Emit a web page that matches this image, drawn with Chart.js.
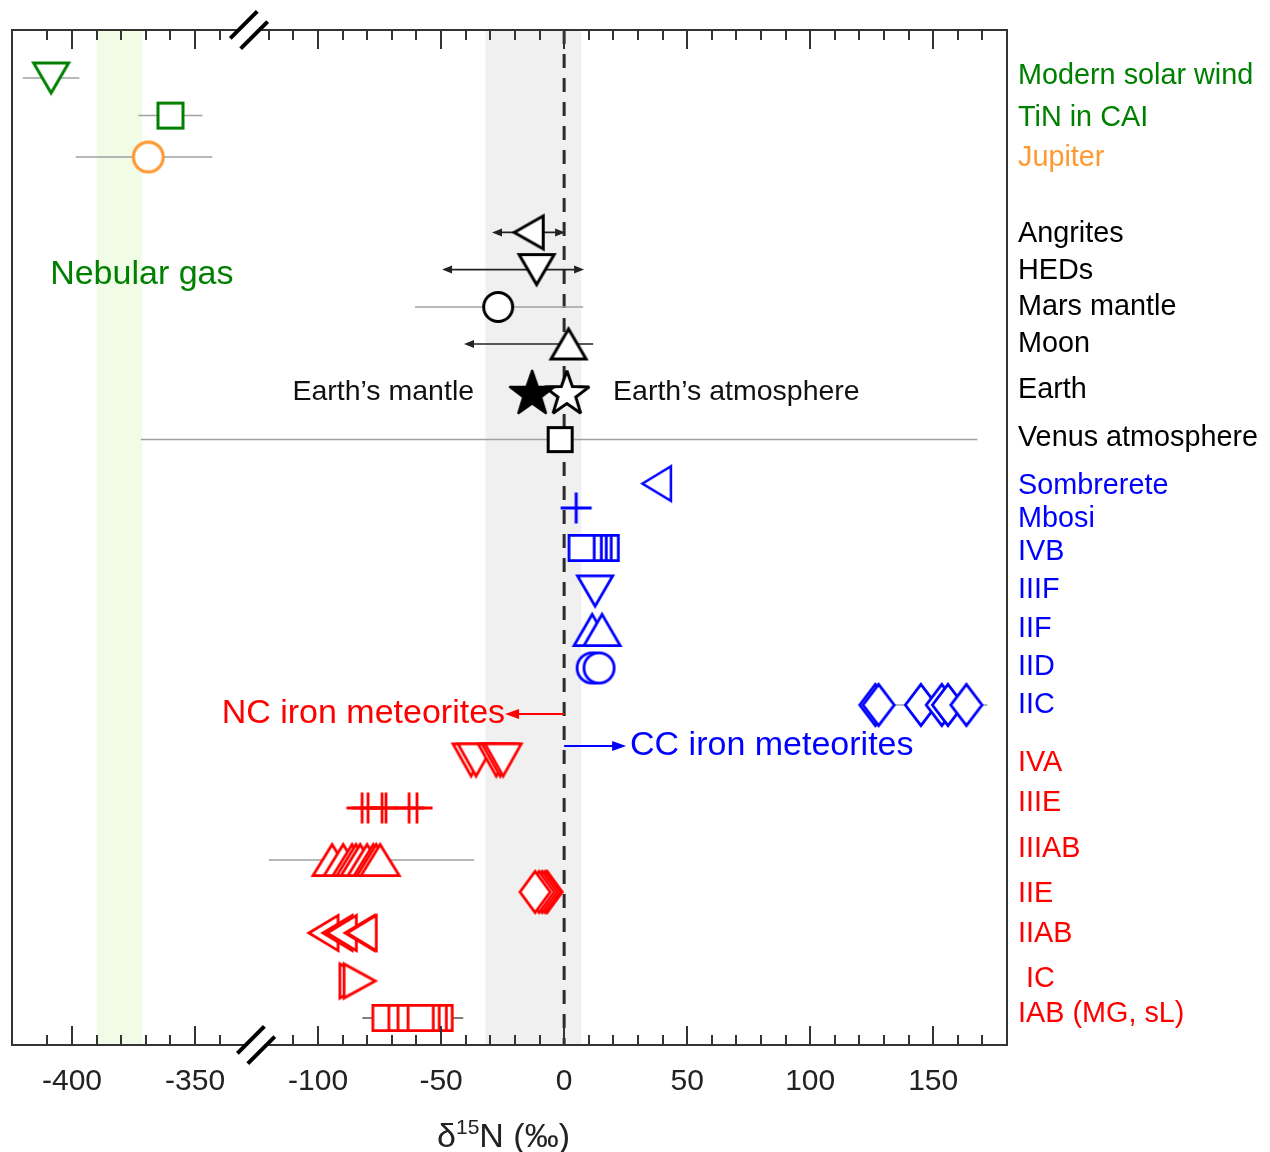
<!DOCTYPE html>
<html>
<head>
<meta charset="utf-8">
<script src="https://cdn.jsdelivr.net/npm/chart.js@4.4.1/dist/chart.umd.min.js"></script>
<style>
  html, body { margin:0; padding:0; background:#ffffff; }
  canvas { display:block; }
</style>
</head>
<body>
<canvas id="chart" width="1270" height="1152"></canvas>
<script>
// ---------------- DATA (δ15N, ‰) ----------------
const rowNames = ["Modern solar wind","TiN in CAI","Jupiter","Angrites","HEDs","Mars mantle","Moon","Earth","Venus atmosphere",
  "Sombrerete","Mbosi","IVB","IIIF","IIF","IID","IIC","IVA","IIIE","IIIAB","IIE","IIAB"," IC","IAB (MG, sL)"];
const rowLabelGroup = ["g","g","o","k","k","k","k","k","k","b","b","b","b","b","b","b","r","r","r","r","r","r","r"];
const labelRows = [1.15, 2.2, 3.2, 5.1, 6.025, 6.925, 7.85, 9.0, 10.2, 11.4, 12.225, 13.05, 14.0, 14.975, 15.925, 16.875,
  18.325, 19.325, 20.475, 21.6, 22.6, 23.725, 24.6];

const tickValues = [-400, -350, -100, -50, 0, 50, 100, 150];
const tickLabels = ["-400", "-350", "-100", "-50", "0", "50", "100", "150"];
const minorTicks = [-410, -400, -390, -380, -370, -360, -350, -340,
  -120, -110, -100, -90, -80, -70, -60, -50, -40, -30, -20, -10, 0, 10, 20, 30, 40, 50, 60, 70, 80, 90,
  100, 110, 120, 130, 140, 150, 160, 170];

const solarWind   = [-408.5];
const solarWindErr = [-420, -397];
const tinCAI      = [-360];
const tinCAIErr   = [-373, -347];
const jupiter     = [-369];
const jupiterErr  = [-398.5, -343];
const angrites    = [-14.4];
const angritesRange = [-29.3, 0.4];
const heds        = [-11.2];
const hedsRange   = [-49.6, 8.1];
const marsMantle  = [-26.8];
const marsErr     = [-60.6, 7.7];
const moon        = [1.8];
const moonRange   = [-40.7, 11.8];
const earthMantle = [-13];
const earthAtm    = [1.1];
const venus       = [-1.6];
const venusErr    = [-372, 168];
const sombrerete  = [37.6];
const mbosi       = [4.9];
const ivb         = [16.9, 14.0, 12.0, 10.0, 7.1];
const iiif        = [12.6];
const iif         = [11.4, 15.4];
const iid         = [11.4, 14.2];
const iic         = [126.5, 127.8, 145, 153.5, 156, 163.5];
const iicErr      = [128, 172];
const iva         = [-37.8, -35.8, -27.6, -26.0, -24.8];
const iiie        = [-82.1, -79.7, -74, -72.4, -63, -59.8];
const iiiab       = [-94.3, -89.8, -86.2, -84.6, -82.9, -80.1, -77.6, -76.4, -74.8];
const iiiabErr    = [-120, -36.6];
const iie         = [-6.9, -7.7, -8.9, -10.2, -11.8];
const iiab        = [-97.8, -92.1, -90.4, -83.1, -82.3];
const ic          = [-84.8, -83.1];
const iab         = [-50.6, -53.0, -55.9, -72.6, -66.1, -62.4, -58.3];
const iabErr      = [-82, -41];

const earthBand   = [-32, 7];
const nebularBand = [-390, -371.5];

// ---------------- STYLE ----------------
const FONT = '"Liberation Sans", Arial, Helvetica, sans-serif';
const GREEN = '#008000', ORANGE = '#ff9933', BLACK = '#000000', BLUE = '#0000ff', RED = '#ff0000';
const LABEL_COLORS = { g: GREEN, o: ORANGE, k: BLACK, b: BLUE, r: RED };

// broken axis: values left of the break are shifted by 200 ‰
const BREAK_RAW = -250, SHIFT = 200;
const mapX = v => (v < BREAK_RAW ? v + SHIFT : v);

function makeMarker(shape, stroke, fill, lw, w, h) {
  const pad = Math.ceil(lw) + 3;
  const c = document.createElement('canvas');
  c.width = Math.round(w + 2 * pad);
  c.height = Math.round(h + 2 * pad);
  const g = c.getContext('2d');
  const cx = c.width / 2, cy = c.height / 2;
  const hw = (w - lw) / 2, hh = (h - lw) / 2;
  g.lineWidth = lw; g.strokeStyle = stroke; g.fillStyle = fill;
  g.lineJoin = 'miter'; g.miterLimit = 3;
  g.beginPath();
  switch (shape) {
    case 'up':    g.moveTo(cx, cy - hh); g.lineTo(cx + hw, cy + hh); g.lineTo(cx - hw, cy + hh); g.closePath(); break;
    case 'down':  g.moveTo(cx - hw, cy - hh); g.lineTo(cx + hw, cy - hh); g.lineTo(cx, cy + hh); g.closePath(); break;
    case 'left':  g.moveTo(cx - hw, cy); g.lineTo(cx + hw, cy - hh); g.lineTo(cx + hw, cy + hh); g.closePath(); break;
    case 'right': g.moveTo(cx + hw, cy); g.lineTo(cx - hw, cy - hh); g.lineTo(cx - hw, cy + hh); g.closePath(); break;
    case 'square': g.rect(cx - hw, cy - hh, 2 * hw, 2 * hh); break;
    case 'circle': g.ellipse(cx, cy, hw, hh, 0, 0, Math.PI * 2); break;
    case 'diamond': g.moveTo(cx, cy - hh); g.lineTo(cx + hw, cy); g.lineTo(cx, cy + hh); g.lineTo(cx - hw, cy); g.closePath(); break;
    case 'plus': g.moveTo(cx - hw, cy); g.lineTo(cx + hw, cy); g.moveTo(cx, cy - hh); g.lineTo(cx, cy + hh); break;
    case 'star': {
      const R = hh, r = R * 0.4;
      for (let i = 0; i < 10; i++) {
        const a = -Math.PI / 2 + i * Math.PI / 5;
        const rr = (i % 2 === 0) ? R : r;
        const px = cx + rr * Math.cos(a), py = cy + 0.05 * R + rr * Math.sin(a);
        if (i === 0) g.moveTo(px, py); else g.lineTo(px, py);
      }
      g.closePath();
      break;
    }
  }
  if (shape !== 'plus') g.fill();
  g.stroke();
  return c;
}

const groups = [
  { vals: solarWind,   row: 1.2,    shape: 'down',    color: GREEN,  lw: 3,   w: 38, h: 33 },
  { vals: tinCAI,      row: 2.14,   shape: 'square',  color: GREEN,  lw: 3,   w: 28, h: 28 },
  { vals: jupiter,     row: 3.175,  shape: 'circle',  color: ORANGE, lw: 3.2, w: 33, h: 33 },
  { vals: angrites,    row: 5.06,   shape: 'left',    color: BLACK,  lw: 3,   w: 32, h: 36 },
  { vals: heds,        row: 5.99,   shape: 'down',    color: BLACK,  lw: 3,   w: 38, h: 33 },
  { vals: marsMantle,  row: 6.925,  shape: 'circle',  color: BLACK,  lw: 3,   w: 32, h: 32 },
  { vals: moon,        row: 7.85,   shape: 'up',      color: BLACK,  lw: 3,   w: 38, h: 33 },
  { vals: earthMantle, row: 9.075,  shape: 'star',    color: BLACK,  fill: BLACK, lw: 2, w: 50, h: 50 },
  { vals: earthAtm,    row: 9.075,  shape: 'star',    color: BLACK,  lw: 3,   w: 50, h: 50 },
  { vals: venus,       row: 10.24,  shape: 'square',  color: BLACK,  lw: 3,   w: 27, h: 27 },
  { vals: sombrerete,  row: 11.34,  shape: 'left',    color: BLUE,   lw: 2.5, w: 31, h: 37 },
  { vals: mbosi,       row: 11.95,  shape: 'plus',    color: BLUE,   lw: 3,   w: 34, h: 34 },
  { vals: ivb,         row: 12.95,  shape: 'square',  color: BLUE,   lw: 2.8, w: 28, h: 28 },
  { vals: iiif,        row: 14.025, shape: 'down',    color: BLUE,   lw: 2.8, w: 38, h: 33 },
  { vals: iif,         row: 15.0,   shape: 'up',      color: BLUE,   lw: 2.8, w: 39, h: 34 },
  { vals: iid,         row: 15.95,  shape: 'circle',  color: BLUE,   lw: 2.8, w: 33, h: 33 },
  { vals: iic,         row: 16.875, shape: 'diamond', color: BLUE,   lw: 2.8, w: 34, h: 44 },
  { vals: iva,         row: 18.25,  shape: 'down',    color: RED,    lw: 2.8, w: 39, h: 35 },
  { vals: iiie,        row: 19.45,  shape: 'plus',    color: RED,    lw: 2.8, w: 34, h: 34 },
  { vals: iiiab,       row: 20.75,  shape: 'up',      color: RED,    lw: 2.8, w: 41, h: 34 },
  { vals: iie,         row: 21.55,  shape: 'diamond', color: RED,    lw: 2.8, w: 33, h: 44 },
  { vals: iiab,        row: 22.575, shape: 'left',    color: RED,    lw: 2.8, w: 32, h: 38 },
  { vals: ic,          row: 23.775, shape: 'right',   color: RED,    lw: 2.8, w: 34, h: 37 },
  { vals: iab,         row: 24.7,   shape: 'square',  color: RED,    lw: 2.8, w: 28, h: 28 }
];

const errorBars = [
  { r: solarWindErr, row: 1.2,    color: '#a0a0a0' },
  { r: tinCAIErr,    row: 2.14,   color: '#a0a0a0' },
  { r: jupiterErr,   row: 3.175,  color: '#a0a0a0' },
  { r: marsErr,      row: 6.925,  color: '#a0a0a0' },
  { r: venusErr,     row: 10.24,  color: '#a0a0a0' },
  { r: iicErr,       row: 16.875, color: '#a0a0a0' },
  { r: iiiabErr,     row: 20.75,  color: '#a0a0a0' },
  { r: iabErr,       row: 24.7,   color: '#555555' }
];
const rangeArrows = [
  { r: angritesRange, row: 5.06,  headLo: true, headHi: true },
  { r: hedsRange,     row: 5.99,  headLo: true, headHi: true },
  { r: moonRange,     row: 7.85,  headLo: true, headHi: false }
];

const datasets = groups.map(gr => ({
  data: gr.vals.map(v => ({ x: mapX(v), y: gr.row })),
  pointStyle: makeMarker(gr.shape, gr.color, gr.fill || '#ffffff', gr.lw, gr.w, gr.h),
  pointRadius: 10,
  pointHoverRadius: 10,
  showLine: false
}));

function arrowHead(ctx, x, y, dir, len, hw) {
  ctx.beginPath();
  ctx.moveTo(x, y);
  ctx.lineTo(x - dir * len, y - hw);
  ctx.lineTo(x - dir * len, y + hw);
  ctx.closePath();
  ctx.fill();
}

const backPlugin = {
  id: 'back',
  beforeDatasetsDraw(chart) {
    const { ctx, chartArea: a, scales: { x, y } } = chart;
    const px = v => x.getPixelForValue(mapX(v));
    ctx.save();
    // bands
    ctx.fillStyle = 'rgb(240,252,229)';
    ctx.fillRect(px(nebularBand[0]), a.top, px(nebularBand[1]) - px(nebularBand[0]), a.bottom - a.top);
    ctx.fillStyle = '#f0f0f0';
    ctx.fillRect(px(earthBand[0]), a.top, px(earthBand[1]) - px(earthBand[0]), a.bottom - a.top);
    // zero dashed line
    ctx.strokeStyle = '#2b2b2b'; ctx.lineWidth = 3; ctx.setLineDash([14, 10]);
    ctx.beginPath(); ctx.moveTo(px(0), a.top); ctx.lineTo(px(0), a.bottom); ctx.stroke();
    ctx.setLineDash([]);
    // error bars
    ctx.lineWidth = 1.5;
    errorBars.forEach(e => {
      ctx.strokeStyle = e.color;
      const yy = y.getPixelForValue(e.row);
      ctx.beginPath(); ctx.moveTo(px(e.r[0]), yy); ctx.lineTo(px(e.r[1]), yy); ctx.stroke();
    });
    // range arrows
    ctx.strokeStyle = '#222'; ctx.fillStyle = '#222'; ctx.lineWidth = 1.6;
    rangeArrows.forEach(e => {
      const yy = y.getPixelForValue(e.row);
      const x0 = px(e.r[0]), x1 = px(e.r[1]);
      ctx.beginPath(); ctx.moveTo(x0 + (e.headLo ? 6 : 0), yy); ctx.lineTo(x1 - (e.headHi ? 6 : 0), yy); ctx.stroke();
      if (e.headLo) arrowHead(ctx, x0, yy, -1, 10, 4);
      if (e.headHi) arrowHead(ctx, x1, yy, 1, 10, 4);
    });
    ctx.restore();
  }
};

function drawBreak(ctx, bx, by) {
  const L = 13.5, o = 5.2;
  const c1 = [bx - o, by - o], c2 = [bx + o, by + o];
  ctx.fillStyle = '#ffffff';
  ctx.beginPath();
  ctx.moveTo(c1[0] - L, c1[1] + L); ctx.lineTo(c1[0] + L, c1[1] - L);
  ctx.lineTo(c2[0] + L, c2[1] - L); ctx.lineTo(c2[0] - L, c2[1] + L);
  ctx.closePath(); ctx.fill();
  ctx.strokeStyle = '#000'; ctx.lineWidth = 4; ctx.lineCap = 'butt';
  ctx.beginPath();
  ctx.moveTo(c1[0] - L, c1[1] + L); ctx.lineTo(c1[0] + L, c1[1] - L);
  ctx.moveTo(c2[0] - L, c2[1] + L); ctx.lineTo(c2[0] + L, c2[1] - L);
  ctx.stroke();
}

const frontPlugin = {
  id: 'front',
  afterDatasetsDraw(chart) {
    const { ctx, chartArea: a, scales: { x, y } } = chart;
    const px = v => x.getPixelForValue(mapX(v));
    const py = v => y.getPixelForValue(v);
    ctx.save();
    // frame
    ctx.strokeStyle = '#333'; ctx.lineWidth = 2;
    ctx.strokeRect(a.left, a.top, a.right - a.left, a.bottom - a.top);
    // ticks (inward, top & bottom)
    ctx.lineWidth = 2;
    minorTicks.forEach(t => {
      const xx = Math.round(px(t));
      const len = (t % 50 === 0) ? 19 : 10;
      ctx.beginPath();
      ctx.moveTo(xx, a.top); ctx.lineTo(xx, a.top + len);
      ctx.moveTo(xx, a.bottom); ctx.lineTo(xx, a.bottom - len);
      ctx.stroke();
    });
    // axis breaks
    drawBreak(ctx, x.getPixelForValue(-128.1), a.top);
    drawBreak(ctx, x.getPixelForValue(-125.2), a.bottom);

    // annotations
    ctx.textBaseline = 'middle';
    ctx.font = '28.5px ' + FONT;
    ctx.fillStyle = '#111';
    ctx.textAlign = 'right';
    ctx.fillText("Earth\u2019s mantle", px(-36.6), py(9.05));
    ctx.textAlign = 'left';
    ctx.fillText("Earth\u2019s atmosphere", px(19.9), py(9.05));

    ctx.font = '34px ' + FONT;
    ctx.fillStyle = GREEN;
    ctx.fillText('Nebular gas', px(-408.9), py(6.125));

    // NC / CC arrows
    const yNC = py(17.1), yCC = py(17.9);
    ctx.lineWidth = 2;
    ctx.strokeStyle = RED; ctx.fillStyle = RED;
    ctx.beginPath(); ctx.moveTo(px(0), yNC); ctx.lineTo(px(-24) + 10, yNC); ctx.stroke();
    arrowHead(ctx, px(-24), yNC, -1, 14, 5);
    ctx.textAlign = 'right';
    ctx.fillText('NC iron meteorites', px(-24.0), yNC);
    ctx.strokeStyle = BLUE; ctx.fillStyle = BLUE;
    ctx.beginPath(); ctx.moveTo(px(0), yCC); ctx.lineTo(px(25.2) - 10, yCC); ctx.stroke();
    arrowHead(ctx, px(25.2), yCC, 1, 14, 5);
    ctx.textAlign = 'left';
    ctx.fillText('CC iron meteorites', px(26.8), yCC);

    // right-hand row labels
    ctx.font = '28.8px ' + FONT;
    ctx.textAlign = 'left';
    rowNames.forEach((n, i) => {
      ctx.fillStyle = LABEL_COLORS[rowLabelGroup[i]];
      ctx.fillText(n, a.right + 11, py(labelRows[i]));
    });

    // x-axis title: δ15N (‰)
    ctx.fillStyle = '#222';
    ctx.textBaseline = 'alphabetic';
    const big = '34px ' + FONT, small = '21px ' + FONT;
    ctx.font = big; const w1 = ctx.measureText('\u03b4').width, w3 = ctx.measureText('N (\u2030)').width;
    ctx.font = small; const w2 = ctx.measureText('15').width;
    const total = w1 + w2 + w3;
    let tx = (a.left + a.right) / 2 - 6 - total / 2;
    const ty = 1147;
    ctx.textAlign = 'left';
    ctx.font = big; ctx.fillText('\u03b4', tx, ty); tx += w1;
    ctx.font = small; ctx.fillText('15', tx, ty - 13); tx += w2;
    ctx.font = big; ctx.fillText('N (\u2030)', tx, ty);
    ctx.restore();
  }
};

new Chart(document.getElementById('chart'), {
  type: 'scatter',
  data: { datasets },
  options: {
    responsive: false,
    animation: false,
    devicePixelRatio: 1,
    events: [],
    layout: { padding: { left: 12, top: 30, right: 263, bottom: 0 } },
    plugins: { legend: { display: false }, tooltip: { enabled: false } },
    scales: {
      x: {
        type: 'linear', position: 'bottom', min: -224.4, max: 180,
        grid: { display: false, drawTicks: false },
        border: { display: false },
        afterBuildTicks: ax => { ax.ticks = tickValues.map(v => ({ value: mapX(v) })); },
        afterFit: ax => { ax.height = 107; },
        ticks: {
          autoSkip: false, maxRotation: 0, minRotation: 0, padding: 19,
          color: '#222', font: { size: 30, family: FONT },
          callback: (val, i) => tickLabels[i]
        }
      },
      y: { type: 'linear', display: false, min: 0, max: 25.375, reverse: true }
    }
  },
  plugins: [backPlugin, frontPlugin]
});
</script>
</body>
</html>
